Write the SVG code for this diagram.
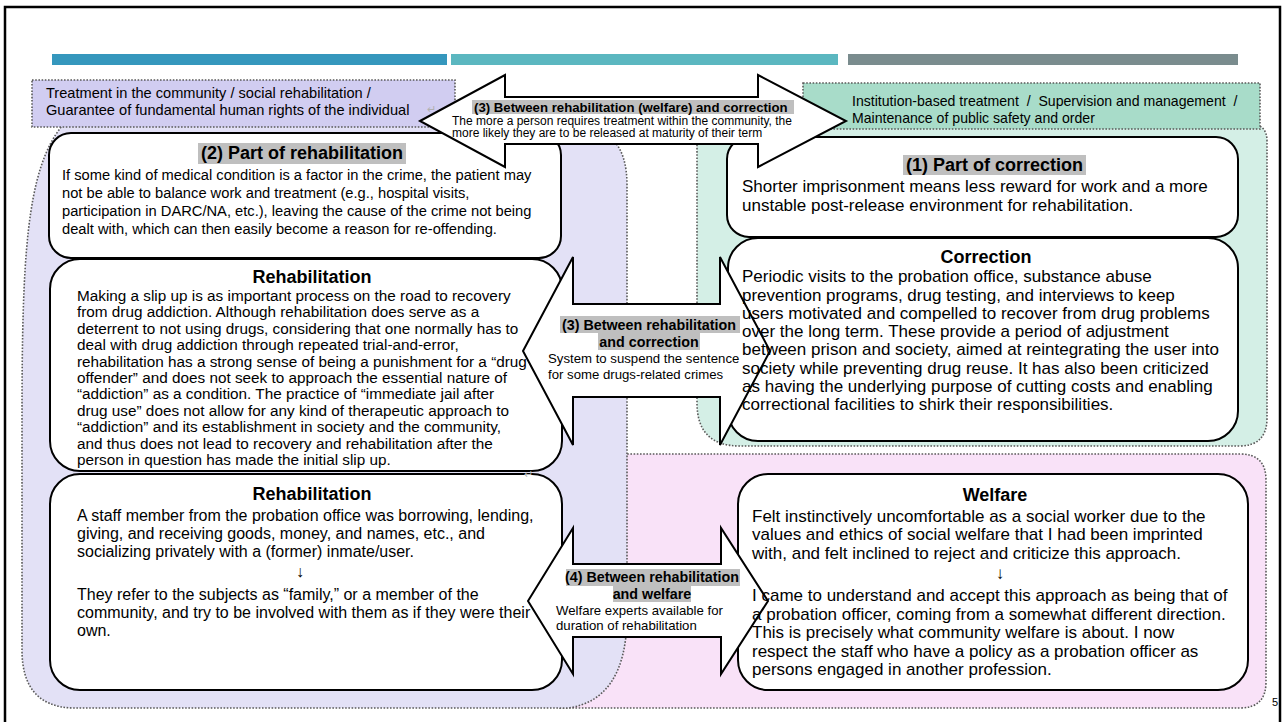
<svg xmlns="http://www.w3.org/2000/svg" width="1283" height="722" viewBox="0 0 1283 722">
<style>
text { font-family: 'Liberation Sans', Arial, Helvetica, sans-serif; fill: #000; }
.box { fill: #fff; stroke: #000; stroke-width: 2; }
.reg { stroke: #5a5a5a; stroke-width: 1.6; stroke-dasharray: 1.6 1.6; }
.arrow { fill: #fff; stroke: #000; stroke-width: 2; stroke-linejoin: miter; }
.hl { fill: #bfbfbf; }
.ha { font-size: 14.7px; }
.hb { font-size: 15.3px; }
.hc { font-size: 16px; }
.hr { font-size: 17px; }
.ti { font-size: 18px; font-weight: bold; text-anchor: middle; }
.hd { font-size: 14.6px; white-space: pre; }
.hd2 { font-size: 14.1px; white-space: pre; }
.ab { font-size: 14.3px; font-weight: bold; text-anchor: middle; }
.as { font-size: 13.2px; }
.tb { font-size: 13.2px; font-weight: bold; }
.ts { font-size: 12px; }
.pm { font-size: 11px; fill: #b0b0b0; }
</style>
<rect width="1283" height="722" fill="#fff"/>
<rect x="5" y="7" width="1275" height="725" fill="none" stroke="#000" stroke-width="2.5"/>
<g id="bars">
<rect x="52" y="54" width="395" height="11" fill="#3597bd"/>
<rect x="451" y="54" width="387" height="11" fill="#5bb7c0"/>
<rect x="848" y="54" width="390" height="11" fill="#7a8c8e"/>
</g>
<g id="regions">
<path class="reg" fill="#f9e2f8" d="M560,454 L1240,454 Q1266,454 1266,480 L1266,682 Q1266,708 1240,708 L560,708 Z"/>
<path class="reg" fill="#e3e1f6" d="M62,126 L575,126 Q627,126 627,185 L627,620 Q625,700 568,708 L72,708 Q22,706 22,650 L22,420 C22,260 26,170 62,126 Z"/>
<path class="reg" fill="#d4efe6" d="M697,124 L1250,124 Q1267,124 1267,141 L1267,418 Q1267,446 1239,446 L740,446 Q697,446 697,403 Z"/>
</g>
<g id="hdr-left">
<rect class="reg" x="32" y="80" width="423" height="47" fill="#d1cdf1"/>
<text class="hd" x="46" y="98">Treatment in the community / social rehabilitation /</text>
<text class="hd" x="46" y="115">Guarantee of fundamental human rights of the individual</text>
<text class="pm" x="427" y="113">↵</text>
</g>
<g id="hdr-right">
<rect class="reg" x="803" y="83" width="457" height="46" fill="#a8dcc9"/>
<text class="hd2" x="852" y="106">Institution-based treatment  /  Supervision and management  /</text>
<text class="hd2" x="852" y="123">Maintenance of public safety and order</text>
</g>
<g id="box-part-rehab">
<rect class="box" x="49" y="133" width="512" height="125" rx="22"/>
</g>
<g id="box-rehab-1">
<rect class="box" x="50" y="259" width="512" height="212" rx="30"/>
</g>
<g id="box-rehab-2">
<rect class="box" x="50" y="474" width="512" height="216" rx="30"/>
</g>
<g id="box-part-correction">
<rect class="box" x="727" y="137" width="511" height="100" rx="22"/>
</g>
<g id="box-correction">
<rect class="box" x="728" y="238" width="510" height="203" rx="30"/>
</g>
<g id="box-welfare">
<rect class="box" x="738" y="474" width="510" height="216" rx="30"/>
</g>
<g id="connectors">
<path class="arrow" d="M420,121 L505,75 L505,97 L758,97 L758,75 L846,121 L758,167 L758,144 L505,144 L505,167 Z"/>
<path class="arrow" d="M523,351 L573,257 L573,304 L720,304 L720,257 L770,351 L720,445 L720,397 L573,397 L573,445 Z"/>
<path class="arrow" d="M528,601 L573,528 L573,564 L721,564 L721,528 L768,601 L721,674 L721,637 L573,637 L573,674 Z"/>
</g>
<g id="box-part-rehab-text">
<rect class="hl" x="198" y="143" width="208" height="21"/>
<text class="ti" x="302" y="159">(2) Part of rehabilitation</text>
<text class="ha" x="62" y="180">If some kind of medical condition is a factor in the crime, the patient may</text>
<text class="ha" x="62" y="198">not be able to balance work and treatment (e.g., hospital visits,</text>
<text class="ha" x="62" y="216">participation in DARC/NA, etc.), leaving the cause of the crime not being</text>
<text class="ha" x="62" y="234">dealt with, which can then easily become a reason for re-offending.</text>
</g>
<g id="box-rehab-1-text">
<text class="ti" x="312" y="283">Rehabilitation</text>
<text class="hb" x="77" y="301">Making a slip up is as important process on the road to recovery</text>
<text class="hb" x="77" y="317.4">from drug addiction. Although rehabilitation does serve as a</text>
<text class="hb" x="77" y="333.8">deterrent to not using drugs, considering that one normally has to</text>
<text class="hb" x="77" y="350.2">deal with drug addiction through repeated trial-and-error,</text>
<text class="hb" x="77" y="366.6">rehabilitation has a strong sense of being a punishment for a “drug</text>
<text class="hb" x="77" y="383">offender” and does not seek to approach the essential nature of</text>
<text class="hb" x="77" y="399.4">“addiction” as a condition. The practice of “immediate jail after</text>
<text class="hb" x="77" y="415.8">drug use” does not allow for any kind of therapeutic approach to</text>
<text class="hb" x="77" y="432.2">“addiction” and its establishment in society and the community,</text>
<text class="hb" x="77" y="448.6">and thus does not lead to recovery and rehabilitation after the</text>
<text class="hb" x="77" y="465">person in question has made the initial slip up.</text>
</g>
<g id="box-rehab-2-text">
<text class="pm" x="524" y="478">↵</text>
<text class="ti" x="312" y="500">Rehabilitation</text>
<text class="hc" x="77" y="520.5">A staff member from the probation office was borrowing, lending,</text>
<text class="hc" x="77" y="538.5">giving, and receiving goods, money, and names, etc., and</text>
<text class="hc" x="77" y="557">socializing privately with a (former) inmate/user.</text>
<text class="hc" x="300" y="577" text-anchor="middle">↓</text>
<text class="hc" x="77" y="599.5">They refer to the subjects as “family,” or a member of the</text>
<text class="hc" x="77" y="617.5">community, and try to be involved with them as if they were their</text>
<text class="hc" x="77" y="636">own.</text>
</g>
<g id="box-part-correction-text">
<rect class="hl" x="903" y="155" width="183" height="20"/>
<text class="ti" x="994.5" y="171">(1) Part of correction</text>
<text class="hr" x="742" y="192">Shorter imprisonment means less reward for work and a more</text>
<text class="hr" x="742" y="211">unstable post-release environment for rehabilitation.</text>
</g>
<g id="box-correction-text">
<text class="ti" x="986" y="263">Correction</text>
<text class="hr" x="742" y="282">Periodic visits to the probation office, substance abuse</text>
<text class="hr" x="742" y="300.5">prevention programs, drug testing, and interviews to keep</text>
<text class="hr" x="742" y="319">users motivated and compelled to recover from drug problems</text>
<text class="hr" x="742" y="337">over the long term. These provide a period of adjustment</text>
<text class="hr" x="742" y="355">between prison and society, aimed at reintegrating the user into</text>
<text class="hr" x="742" y="373.5">society while preventing drug reuse. It has also been criticized</text>
<text class="hr" x="742" y="392">as having the underlying purpose of cutting costs and enabling</text>
<text class="hr" x="742" y="410">correctional facilities to shirk their responsibilities.</text>
</g>
<g id="box-welfare-text">
<text class="ti" x="995" y="501">Welfare</text>
<text class="hr" x="752" y="522">Felt instinctively uncomfortable as a social worker due to the</text>
<text class="hr" x="752" y="540">values and ethics of social welfare that I had been imprinted</text>
<text class="hr" x="752" y="559">with, and felt inclined to reject and criticize this approach.</text>
<text class="hr" x="1000" y="579" text-anchor="middle">↓</text>
<text class="hr" x="752" y="601">I came to understand and accept this approach as being that of</text>
<text class="hr" x="752" y="620">a probation officer, coming from a somewhat different direction.</text>
<text class="hr" x="752" y="638">This is precisely what community welfare is about. I now</text>
<text class="hr" x="752" y="657">respect the staff who have a policy as a probation officer as</text>
<text class="hr" x="752" y="675">persons engaged in another profession.</text>
</g>
<g id="label-top">
<rect class="hl" x="472" y="100" width="322" height="14"/>
<text class="tb" x="474" y="111.5">(3) Between rehabilitation (welfare) and correction</text>
<text class="ts" x="452" y="125">The more a person requires treatment within the community, the</text>
<text class="ts" x="452" y="137">more likely they are to be released at maturity of their term</text>
</g>
<g id="label-middle">
<rect class="hl" x="560" y="316" width="180" height="17"/>
<rect class="hl" x="598" y="333" width="102" height="17"/>
<text class="ab" x="649" y="330">(3) Between rehabilitation</text>
<text class="ab" x="649" y="347">and correction</text>
<text class="as" x="548" y="363">System to suspend the sentence</text>
<text class="as" x="548" y="379">for some drugs-related crimes</text>
</g>
<g id="label-bottom">
<rect class="hl" x="566" y="569" width="174" height="17"/>
<rect class="hl" x="613" y="586" width="78" height="16"/>
<text class="ab" x="652" y="582">(4) Between rehabilitation</text>
<text class="ab" x="652" y="599">and welfare</text>
<text class="as" x="556" y="615">Welfare experts available for</text>
<text class="as" x="556" y="630">duration of rehabilitation</text>
</g>
<text x="1272" y="706" font-size="11" fill="#3aa3b5">5</text>
</svg>
